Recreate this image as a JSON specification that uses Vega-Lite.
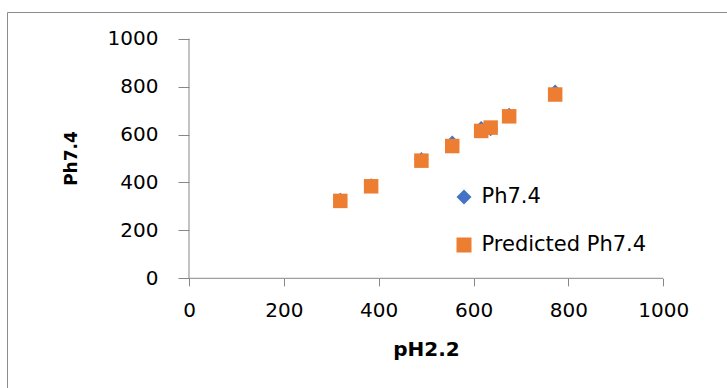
{
  "$schema": "https://vega.github.io/schema/vega-lite/v6.json",
  "width": 730,
  "height": 385,
  "autosize": {"type": "none"},
  "padding": {"left": 7, "top": 12, "right": 0, "bottom": 0},
  "background": "white",
  "config": {
    "view": {"stroke": "#8c8c8c", "strokeWidth": 1},
    "font": "DejaVu Sans"
  },
  "data": {
    "values": [
      {"pH22": 319, "ph74": 327, "series": "Ph7.4"},
      {"pH22": 384, "ph74": 387, "series": "Ph7.4"},
      {"pH22": 490, "ph74": 497, "series": "Ph7.4"},
      {"pH22": 555, "ph74": 566, "series": "Ph7.4"},
      {"pH22": 616, "ph74": 626, "series": "Ph7.4"},
      {"pH22": 636, "ph74": 623, "series": "Ph7.4"},
      {"pH22": 675, "ph74": 682, "series": "Ph7.4"},
      {"pH22": 772, "ph74": 779, "series": "Ph7.4"},
      {"pH22": 319, "ph74": 323, "series": "Predicted Ph7.4"},
      {"pH22": 384, "ph74": 384, "series": "Predicted Ph7.4"},
      {"pH22": 490, "ph74": 491, "series": "Predicted Ph7.4"},
      {"pH22": 555, "ph74": 552, "series": "Predicted Ph7.4"},
      {"pH22": 616, "ph74": 615, "series": "Predicted Ph7.4"},
      {"pH22": 636, "ph74": 629, "series": "Predicted Ph7.4"},
      {"pH22": 675, "ph74": 676, "series": "Predicted Ph7.4"},
      {"pH22": 772, "ph74": 767, "series": "Predicted Ph7.4"}
    ]
  },
  "layer": [
    {
      "mark": {"type": "point", "filled": true, "opacity": 1, "size": 210, "strokeWidth": 0},
      "encoding": {
        "x": {
          "field": "pH22",
          "type": "quantitative",
          "title": "pH2.2",
          "scale": {"domain": [-383.7, 1155.4], "nice": false, "zero": false},
          "axis": {
            "values": [0, 200, 400, 600, 800, 1000],
            "format": "d",
            "domain": false,
            "grid": false,
            "ticks": true,
            "tickColor": "#868686",
            "tickSize": 7.5,
            "tickWidth": 1,
            "labelFont": "DejaVu Sans",
            "labelFontSize": 20,
            "labelColor": "#000000",
            "labelPadding": 15,
            "labelFlush": false,
            "labelOverlap": false,
            "offset": -118.7,
            "titleFont": "DejaVu Sans",
            "titleFontSize": 20,
            "titleFontWeight": "bold",
            "titleColor": "#000000",
            "titleX": 419,
            "titleY": 76.7,
            "titleBaseline": "alphabetic",
            "titleAlign": "center"
          }
        },
        "y": {
          "field": "ph74",
          "type": "quantitative",
          "title": "Ph7.4",
          "scale": {"domain": [-495.4, 1111.4], "nice": false, "zero": false},
          "axis": {
            "values": [0, 200, 400, 600, 800, 1000],
            "format": "d",
            "domain": false,
            "grid": false,
            "ticks": true,
            "tickColor": "#868686",
            "tickSize": 11,
            "tickWidth": 1,
            "labelFont": "DejaVu Sans",
            "labelFontSize": 20,
            "labelColor": "#000000",
            "labelPadding": 20,
            "labelFlush": false,
            "labelOverlap": false,
            "offset": -182,
            "titleFont": "DejaVu Sans",
            "titleFontSize": 17,
            "titleFontWeight": "bold",
            "titleColor": "#000000",
            "titleAngle": -90,
            "titleX": -112.5,
            "titleY": 146,
            "titleBaseline": "alphabetic",
            "titleAlign": "center"
          }
        },
        "color": {
          "field": "series",
          "type": "nominal",
          "scale": {"domain": ["Ph7.4", "Predicted Ph7.4"], "range": ["#4472C4", "#ED7D31"]},
          "legend": {
            "title": null,
            "orient": "none",
            "legendX": 446.5,
            "legendY": 174.5,
            "padding": 0,
            "labelFont": "DejaVu Sans",
            "labelFontSize": 21,
            "labelColor": "#000000",
            "labelOffset": 7,
            "labelLimit": 0,
            "symbolSize": 225,
            "symbolStrokeWidth": 0,
            "symbolOpacity": 1,
            "rowPadding": 26
          }
        },
        "shape": {
          "field": "series",
          "type": "nominal",
          "scale": {"domain": ["Ph7.4", "Predicted Ph7.4"], "range": ["diamond", "square"]},
          "legend": {
            "title": null,
            "orient": "none",
            "legendX": 446.5,
            "legendY": 174.5,
            "padding": 0,
            "labelFont": "DejaVu Sans",
            "labelFontSize": 21,
            "labelColor": "#000000",
            "labelOffset": 7,
            "labelLimit": 0,
            "symbolSize": 225,
            "symbolStrokeWidth": 0,
            "symbolOpacity": 1,
            "rowPadding": 26
          }
        }
      }
    },
    {
      "data": {"values": [{}]},
      "mark": {"type": "rule", "color": "#868686", "strokeWidth": 1},
      "encoding": {
        "x": {"datum": 0, "type": "quantitative", "title": "pH2.2"},
        "y": {"datum": 0, "type": "quantitative", "title": "Ph7.4"},
        "y2": {"datum": 1000}
      }
    },
    {
      "data": {"values": [{}]},
      "mark": {"type": "rule", "color": "#868686", "strokeWidth": 1},
      "encoding": {
        "x": {"datum": 0, "type": "quantitative", "title": "pH2.2"},
        "x2": {"datum": 1000},
        "y": {"datum": 0, "type": "quantitative", "title": "Ph7.4"}
      }
    }
  ]
}
